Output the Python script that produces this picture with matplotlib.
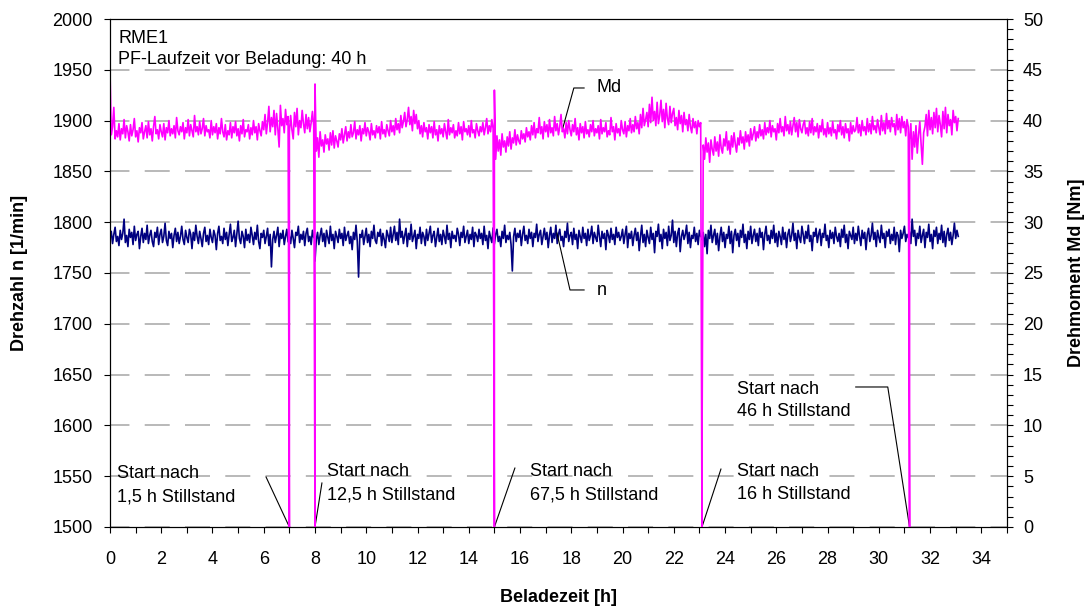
import numpy as np
import matplotlib.pyplot as plt
from matplotlib.ticker import MultipleLocator

plt.rcParams['font.family'] = ['Liberation Sans', 'DejaVu Sans']
plt.rcParams['font.size'] = 13
plt.rcParams['lines.scale_dashes'] = False

# logging interval of the test bench [h]
dt = 0.05

# start of each run after a standstill [h]
restarts = [0.0, 7.0, 8.0, 15.0, 23.1, 31.2]
stillstand = ["1,5", "12,5", "67,5", "16", "46"]

# torque Md [Nm], one list per run
md_0 = [45.0, 38.6, 39.4, 41.3, 38.2, 39.0, 38.4, 39.7, 38.1, 39.2,
        38.7, 40.1, 38.3, 39.5, 38.9, 38.0, 39.6, 38.5, 39.1, 40.2,
        38.4, 39.0, 37.9, 39.3, 38.8, 39.8, 38.2, 38.9, 39.5, 38.3,
        39.9, 38.6, 39.2, 38.0, 39.4, 40.4, 38.7, 39.1, 38.2, 39.6,
        38.9, 38.4, 39.7, 38.1, 39.3, 38.8, 40.0, 38.5, 39.2, 38.7,
        39.5, 38.3, 40.3, 39.0, 38.6, 39.4, 38.9, 39.8, 38.2, 39.3,
        38.8, 40.1, 38.5, 39.6, 39.0, 38.4, 40.5, 38.9, 39.4, 38.6,
        39.9, 38.7, 39.2, 40.2, 38.5, 39.5, 38.9, 39.1, 38.3, 40.0,
        38.6, 39.4, 38.8, 39.7, 38.2, 39.3, 38.7, 40.2, 38.9, 38.4,
        39.6, 38.1, 39.0, 38.6, 39.8, 38.3, 39.4, 38.8, 39.9, 38.5,
        39.2, 38.0, 39.5, 38.7, 40.1, 38.4, 39.1, 38.9, 39.6, 38.2,
        39.3, 38.6, 40.0, 38.8, 39.4, 38.1, 39.7, 39.0, 38.5, 39.9,
        39.1, 40.6, 38.7, 39.8, 41.4, 38.9, 40.3, 39.4, 41.0, 38.6,
        40.7, 39.2, 37.4, 41.5, 39.5, 40.2, 38.8, 41.1, 39.6, 40.4]
md_1 = [38.9, 40.5, 39.1, 38.2, 40.8, 39.4, 41.2, 38.6, 40.0, 39.3,
        41.0, 39.7, 38.8, 40.6, 39.2, 40.3, 38.9, 39.8, 40.9, 39.5]
md_2 = [43.6, 37.0, 38.3, 36.4, 38.9, 37.5, 38.1, 36.9, 38.6, 37.7,
        38.2, 37.1, 38.8, 37.6, 39.0, 37.3, 38.5, 38.0, 37.4, 38.7,
        38.1, 39.2, 37.8, 38.6, 39.4, 38.0, 38.9, 38.3, 39.6, 38.4,
        38.8, 39.9, 38.2, 39.1, 38.6, 39.5, 38.0, 39.2, 38.7, 39.8,
        38.5, 39.3, 38.9, 38.1, 39.7, 38.6, 39.0, 38.3, 39.5, 38.8,
        39.4, 38.2, 39.9, 38.7, 39.1, 38.4, 39.6, 39.0, 38.5, 40.0,
        38.9, 39.5, 38.6, 40.2, 39.1, 39.7, 38.8, 40.5, 39.3, 39.9,
        40.8, 39.4, 40.1, 41.3, 39.6, 40.4, 39.0, 41.0, 39.7, 40.6,
        39.2, 40.0, 38.7, 39.5, 38.4, 39.8, 38.9, 39.3, 38.2, 39.6,
        38.8, 39.4, 38.3, 39.9, 38.6, 39.1, 38.0, 39.5, 38.7, 39.2,
        38.4, 39.7, 38.9, 38.2, 40.1, 38.6, 39.3, 38.8, 39.6, 38.3,
        39.0, 38.5, 39.8, 38.7, 39.4, 38.1, 39.9, 38.9, 39.2, 38.6,
        39.5, 38.4, 40.0, 38.8, 39.1, 38.3, 39.7, 39.0, 38.5, 39.4,
        38.9, 39.8, 38.6, 39.3, 40.2, 38.7, 39.5, 38.9, 40.1, 39.2]
md_3 = [43.0, 36.2, 38.5, 37.0, 38.1, 36.6, 38.7, 37.4, 38.0, 36.9,
        38.4, 37.5, 38.9, 37.2, 38.3, 37.8, 39.1, 37.6, 38.6, 38.0,
        37.7, 39.0, 38.2, 38.7, 37.9, 39.3, 38.4, 38.9, 38.1, 39.5,
        38.6, 39.8, 38.3, 39.2, 38.8, 40.3, 38.7, 39.4, 38.2, 39.9,
        38.9, 39.6, 38.4, 40.1, 38.8, 39.3, 38.5, 40.4, 39.0, 39.7,
        38.6, 39.4, 40.6, 38.9, 39.2, 38.3, 39.8, 38.7, 40.0, 39.1,
        38.5, 39.6, 38.9, 40.2, 38.6, 39.3, 38.1, 39.7, 38.8, 39.4,
        38.3, 39.9, 38.7, 39.1, 38.4, 39.6, 38.9, 40.0, 38.5, 39.2,
        38.8, 39.5, 38.2, 40.1, 38.7, 39.3, 38.9, 39.8, 38.4, 39.0,
        38.6, 40.3, 38.9, 39.4, 38.1, 39.7, 38.8, 39.2, 38.5, 40.0,
        39.1, 38.7, 39.9, 38.4, 39.5, 39.0, 40.2, 38.8, 39.6, 38.9,
        40.4, 39.2, 39.8, 38.7, 40.6, 39.3, 41.2, 39.5, 40.1, 40.8,
        39.4, 41.6, 39.8, 42.3, 40.0, 40.9, 39.5, 41.8, 39.7, 40.5,
        42.0, 39.9, 41.1, 39.3, 41.7, 40.2, 39.6, 41.4, 39.8, 40.7,
        41.2, 39.5, 40.3, 39.1, 41.0, 39.7, 40.5, 38.9, 40.8, 39.6,
        40.1, 39.0, 40.6, 39.4, 38.8, 40.2, 39.3, 39.9, 38.7, 40.0,
        39.4, 39.8]
md_4 = [6.7, 37.6, 36.2, 38.3, 36.9, 37.8, 35.9, 38.1, 37.2, 36.6,
        38.4, 37.0, 37.9, 36.5, 38.6, 37.3, 36.8, 38.2, 37.5, 38.9,
        37.1, 38.0, 36.7, 38.5, 37.4, 38.8, 37.7, 36.9, 38.3, 37.6,
        39.0, 37.8, 38.4, 37.2, 38.9, 37.9, 38.6, 37.5, 39.2, 38.1,
        38.7, 39.4, 38.0, 38.9, 38.3, 39.6, 38.5, 39.1, 38.2, 39.8,
        38.6, 39.3, 38.8, 40.0, 38.4, 39.5, 38.9, 39.2, 38.1, 39.7,
        38.8, 40.2, 38.9, 39.4, 38.5, 40.4, 39.0, 39.6, 38.7, 39.9,
        38.6, 39.5, 40.3, 38.9, 39.8, 38.4, 40.1, 39.2, 38.8, 39.6,
        40.0, 38.7, 39.3, 38.5, 39.9, 38.8, 40.2, 38.6, 39.4, 38.9,
        39.7, 38.3, 39.5, 38.9, 40.1, 38.6, 39.2, 38.4, 39.8, 38.7,
        39.3, 38.5, 39.9, 38.8, 39.1, 38.2, 39.6, 38.9, 40.0, 38.6,
        39.4, 38.3, 39.7, 38.8, 39.2, 38.0, 39.8, 38.7, 39.5, 38.9,
        39.1, 40.3, 38.8, 39.6, 38.5, 40.0, 39.0, 39.4, 38.6, 40.2,
        38.9, 39.7, 38.7, 40.4, 39.1, 39.5, 38.8, 40.1, 39.3, 38.6,
        40.5, 39.0, 39.8, 38.7, 40.7, 39.2, 40.0, 38.9, 40.3, 39.4,
        39.7, 38.6, 40.6, 39.1, 40.2, 38.8, 40.4, 39.3, 39.9, 38.5,
        40.1, 39.4]
md_5 = [38.1, 39.7, 36.2, 38.9, 37.4, 39.5, 36.8, 38.6, 39.9, 37.7,
        35.7, 38.8, 39.4, 40.6, 38.5, 41.0, 39.1, 40.3, 38.7, 40.8,
        39.3, 41.2, 38.9, 40.5, 39.6, 38.4, 40.9, 39.2, 41.3, 38.8,
        40.6, 39.5, 40.1, 38.6, 41.0, 39.8, 40.4, 39.0, 40.2]

# engine speed n [1/min], one list per run
n_0 = [1784, 1791, 1779, 1788, 1795, 1781, 1786, 1777, 1792, 1783,
       1789, 1803, 1780, 1787, 1776, 1793, 1785, 1790, 1778, 1796,
       1782, 1788, 1791, 1774, 1786, 1794, 1780, 1789, 1783, 1797,
       1779, 1787, 1792, 1781, 1776, 1790, 1785, 1795, 1778, 1788,
       1793, 1780, 1786, 1799, 1782, 1777, 1791, 1784, 1789, 1775,
       1787, 1794, 1781, 1790, 1779, 1786, 1796, 1783, 1778, 1792,
       1785, 1780, 1793, 1788, 1774, 1790, 1782, 1797, 1786, 1779,
       1791, 1784, 1776, 1789, 1795, 1781, 1787, 1778, 1793, 1785,
       1780, 1792, 1787, 1773, 1789, 1796, 1782, 1786, 1779, 1794,
       1783, 1790, 1777, 1788, 1798, 1781, 1785, 1792, 1776, 1789,
       1801, 1784, 1779, 1791, 1786, 1775, 1793, 1782, 1788, 1780,
       1795, 1787, 1778, 1790, 1783, 1797, 1781, 1774, 1789, 1785,
       1792, 1779, 1786, 1794, 1777, 1788, 1756, 1783, 1791, 1780,
       1787, 1795, 1776, 1789, 1784, 1792, 1778, 1786, 1793, 1781]
n_1 = [1786, 1779, 1792, 1784, 1775, 1790, 1787, 1796, 1780, 1788,
       1783, 1791, 1777, 1789, 1794, 1781, 1786, 1778, 1792, 1785]
n_2 = [1762, 1783, 1790, 1778, 1787, 1794, 1781, 1789, 1776, 1792,
       1785, 1779, 1796, 1782, 1788, 1774, 1791, 1786, 1780, 1793,
       1784, 1789, 1777, 1795, 1782, 1787, 1791, 1779, 1786, 1773,
       1790, 1783, 1797, 1781, 1746, 1788, 1785, 1792, 1778, 1786,
       1794, 1780, 1788, 1776, 1791, 1784, 1797, 1782, 1779, 1790,
       1786, 1793, 1777, 1789, 1783, 1775, 1792, 1787, 1781, 1795,
       1780, 1788, 1796, 1782, 1790, 1778, 1803, 1785, 1791, 1779,
       1787, 1794, 1776, 1789, 1783, 1798, 1781, 1786, 1792, 1774,
       1788, 1784, 1795, 1779, 1790, 1786, 1777, 1793, 1782, 1789,
       1796, 1780, 1787, 1791, 1776, 1785, 1794, 1781, 1788, 1778,
       1792, 1786, 1779, 1797, 1783, 1789, 1775, 1791, 1784, 1787,
       1781, 1794, 1788, 1777, 1790, 1785, 1796, 1780, 1786, 1792,
       1779, 1788, 1783, 1795, 1776, 1790, 1787, 1781, 1793, 1784,
       1789, 1778, 1796, 1782, 1787, 1774, 1791, 1785, 1780, 1794]
n_3 = [1779, 1788, 1793, 1781, 1786, 1776, 1791, 1784, 1797, 1780,
       1787, 1783, 1790, 1778, 1752, 1786, 1794, 1781, 1789, 1785,
       1792, 1777, 1788, 1796, 1782, 1787, 1779, 1793, 1784, 1790,
       1776, 1789, 1785, 1798, 1781, 1788, 1792, 1778, 1786, 1794,
       1783, 1790, 1775, 1787, 1795, 1780, 1789, 1784, 1797, 1779,
       1788, 1793, 1782, 1786, 1776, 1791, 1785, 1799, 1781, 1787,
       1790, 1778, 1794, 1783, 1788, 1774, 1792, 1786, 1780, 1795,
       1784, 1789, 1777, 1793, 1782, 1787, 1796, 1779, 1790, 1785,
       1781, 1797, 1786, 1776, 1791, 1784, 1789, 1773, 1792, 1787,
       1780, 1794, 1783, 1788, 1778, 1795, 1785, 1790, 1782, 1786,
       1793, 1779, 1788, 1796, 1775, 1789, 1784, 1791, 1777, 1787,
       1794, 1782, 1790, 1772, 1786, 1797, 1780, 1788, 1776, 1792,
       1785, 1779, 1795, 1783, 1789, 1770, 1791, 1786, 1798, 1781,
       1788, 1774, 1793, 1784, 1790, 1777, 1796, 1782, 1787, 1802,
       1780, 1791, 1776, 1789, 1794, 1771, 1786, 1792, 1783, 1788,
       1797, 1779, 1790, 1775, 1787, 1784, 1795, 1781, 1789, 1778,
       1792, 1786]
n_4 = [1783, 1790, 1776, 1788, 1769, 1792, 1784, 1797, 1780, 1787,
       1793, 1778, 1789, 1772, 1786, 1795, 1781, 1790, 1775, 1788,
       1784, 1796, 1779, 1791, 1770, 1787, 1793, 1782, 1789, 1776,
       1792, 1785, 1798, 1780, 1788, 1774, 1791, 1783, 1796, 1779,
       1787, 1793, 1781, 1789, 1777, 1794, 1785, 1790, 1773, 1788,
       1796, 1782, 1787, 1779, 1792, 1784, 1797, 1780, 1789, 1776,
       1791, 1786, 1778, 1795, 1783, 1790, 1775, 1788, 1793, 1781,
       1787, 1799, 1782, 1789, 1774, 1792, 1785, 1780, 1796, 1788,
       1779, 1791, 1784, 1797, 1781, 1787, 1772, 1790, 1786, 1794,
       1780, 1788, 1793, 1777, 1789, 1785, 1798, 1782, 1787, 1775,
       1792, 1784, 1790, 1779, 1795, 1786, 1781, 1789, 1776, 1793,
       1785, 1797, 1780, 1788, 1774, 1791, 1787, 1783, 1795, 1779,
       1789, 1782, 1796, 1786, 1777, 1792, 1784, 1790, 1773, 1788,
       1794, 1781, 1787, 1799, 1783, 1790, 1776, 1792, 1785, 1780,
       1797, 1784, 1789, 1775, 1791, 1786, 1793, 1779, 1788, 1782,
       1795, 1778, 1790, 1787, 1771, 1792, 1784, 1789, 1796, 1781,
       1788, 1785]
n_5 = [1790, 1779, 1803, 1786, 1792, 1777, 1789, 1784, 1796, 1780,
       1787, 1793, 1775, 1790, 1785, 1798, 1781, 1788, 1774, 1792,
       1786, 1795, 1779, 1789, 1783, 1797, 1780, 1791, 1776, 1788,
       1794, 1782, 1790, 1778, 1787, 1799, 1784, 1792, 1786]

md_runs = [md_0, md_1, md_2, md_3, md_4, md_5]
n_runs = [n_0, n_1, n_2, n_3, n_4, n_5]

fig = plt.figure(figsize=(10.9, 6.11), dpi=100)
ax = fig.add_axes([0.1009, 0.1375, 0.8229, 0.8314])
ax2 = ax.twinx()

# torque falls to 0 at each standstill, speed is drawn run by run
t_md, md_all = [], []
for t0, md, n in zip(restarts, md_runs, n_runs):
    t = t0 + dt * np.arange(len(md))
    ax.plot(t, n, color='#000080', lw=1.2)
    t_md += [t0] + list(t)
    md_all += [0.0] + md
ax2.plot(t_md, md_all, color='#ff00ff', lw=1.2)

ax.set_xlim(0, 35)
ax.set_ylim(1500, 2000)
ax2.set_ylim(0, 50)

ax.xaxis.set_major_locator(MultipleLocator(2))
ax.xaxis.set_minor_locator(MultipleLocator(1))
ax.yaxis.set_major_locator(MultipleLocator(50))
ax2.yaxis.set_major_locator(MultipleLocator(5))
ax2.yaxis.set_minor_locator(MultipleLocator(1))

ax.tick_params(axis='x', which='both', direction='out', length=4.5, width=0.8, pad=13)
ax.tick_params(axis='y', direction='out', length=4.5, width=0.8, pad=8)
ax2.tick_params(axis='y', which='both', direction='out', length=4.5, width=0.8, pad=7)

ax.grid(axis='y', color='#a6a6a6', lw=1.1, linestyle=(4, (18, 11)))
ax.set_axisbelow(True)

ax.set_xlabel('Beladezeit [h]', fontweight='bold')
ax.set_ylabel('Drehzahl n [1/min]', fontweight='bold')
ax2.set_ylabel('Drehmoment Md [Nm]', fontweight='bold')
ax.xaxis.set_label_coords(0.5, -0.122)
ax.yaxis.set_label_coords(-0.0914, 0.5)
ax2.yaxis.set_label_coords(1.068, 0.5)

ax.text(0.009, 0.979, 'RME1\nPF-Laufzeit vor Beladung: 40 h',
        transform=ax.transAxes, va='top', ha='left', linespacing=1.3)

# labels for the series
line_kw = dict(color='black', lw=0.8)
ax.plot([17.67, 18.1, 18.5], [1892.7, 1932.1, 1932.1], **line_kw)
ax.text(19.0, 1933, 'Md', va='center', ha='left')
ax.plot([17.44, 17.95, 18.5], [1789.4, 1733.3, 1733.3], **line_kw)
ax.text(19.0, 1733, 'n', va='center', ha='left')

# restart notes: text position and leader line points
note_pos = [(0.27, 1541), (8.47, 1543), (16.39, 1543), (24.46, 1543), (24.46, 1624.5)]
leaders = [[(6.09, 1549.2)], [(8.27, 1543.3)], [(15.8, 1558.0)], [(23.84, 1557.0)],
           [(29.1, 1637.8), (30.35, 1637.8)]]
for (tx, ty), pts, t0, dur in zip(note_pos, leaders, restarts[1:], stillstand):
    ax.text(tx, ty, 'Start nach\n%s h Stillstand' % dur, va='center',
            ha='left', linespacing=1.45)
    xs = [p[0] for p in pts] + [t0]
    ys = [p[1] for p in pts] + [1500]
    ax.plot(xs, ys, clip_on=False, **line_kw)

fig.savefig('out.png', dpi=100)
